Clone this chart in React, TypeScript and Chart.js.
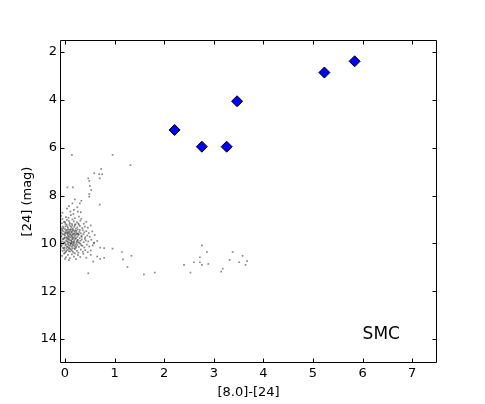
import React, { useEffect, useRef } from "react";
import { Chart, registerables } from "chart.js";

Chart.register(...registerables);

// Tick labels
const X_TICKS = [0, 1, 2, 3, 4, 5, 6, 7];
const Y_TICKS = [2, 4, 6, 8, 10, 12, 14];

// Bright sources (blue diamonds): [8.0]-[24] colour and [24] magnitude
const BRIGHT_COLOR = [2.21, 2.76, 3.26, 3.47, 5.23, 5.84];
const BRIGHT_MAG = [5.26, 5.96, 5.96, 4.06, 2.86, 2.39];

// Field stars (grey dots): [colour, magnitude]
const FIELD_CORE: [number, number][] = [
  [-0.08, 8.85], [0.02, 8.9], [0.12, 8.82], [0.2, 8.95], [-0.05, 8.98], [0.07, 8.93], [0.28, 8.88], [0.15, 9.0], [-0.1, 8.92], [0.33, 8.97],
  [-0.09, 9.05], [-0.02, 9.1], [0.04, 9.02], [0.1, 9.15], [0.18, 9.08], [0.24, 9.12], [0.31, 9.05], [0.38, 9.18], [0.01, 9.18], [0.14, 9.19],
  [-0.06, 9.16], [0.21, 9.2], [0.08, 9.07], [0.27, 9.17], [0.43, 9.1],
  [-0.1, 9.25], [-0.04, 9.3], [0.03, 9.22], [0.06, 9.35], [0.11, 9.28], [0.16, 9.38], [0.2, 9.24], [0.25, 9.33], [0.3, 9.27], [0.35, 9.36],
  [0.4, 9.3], [-0.07, 9.38], [0.0, 9.4], [0.09, 9.21], [0.13, 9.33], [0.19, 9.31], [0.22, 9.39], [0.28, 9.22], [0.46, 9.34], [0.52, 9.25],
  [-0.1, 9.45], [-0.08, 9.55], [-0.05, 9.42], [-0.03, 9.5], [0.0, 9.58], [0.02, 9.46], [0.05, 9.52], [0.07, 9.43], [0.09, 9.57], [0.11, 9.48],
  [0.13, 9.54], [0.15, 9.44], [0.17, 9.59], [0.19, 9.5], [0.21, 9.46], [0.23, 9.55], [0.26, 9.42], [0.29, 9.52], [0.32, 9.58], [0.36, 9.45],
  [0.39, 9.54], [0.43, 9.49], [0.48, 9.57], [0.55, 9.5], [0.01, 9.53], [0.12, 9.41], [-0.06, 9.59], [0.24, 9.6],
  [-0.1, 9.65], [-0.07, 9.72], [-0.04, 9.62], [-0.02, 9.78], [0.0, 9.68], [0.03, 9.74], [0.05, 9.61], [0.07, 9.7], [0.08, 9.79], [0.1, 9.64],
  [0.12, 9.75], [0.14, 9.68], [0.16, 9.62], [0.18, 9.77], [0.2, 9.7], [0.22, 9.64], [0.25, 9.73], [0.27, 9.66], [0.3, 9.78], [0.33, 9.69],
  [0.37, 9.62], [0.41, 9.74], [0.45, 9.67], [0.5, 9.72], [0.6, 9.65], [-0.09, 9.8], [0.06, 9.66], [0.15, 9.8], [0.28, 9.61],
  [-0.1, 9.85], [-0.06, 9.92], [-0.03, 9.83], [0.0, 9.97], [0.02, 9.88], [0.04, 9.81], [0.06, 9.94], [0.09, 9.86], [0.11, 9.99], [0.13, 9.9],
  [0.15, 9.83], [0.17, 9.95], [0.19, 9.87], [0.21, 9.82], [0.24, 9.93], [0.26, 9.85], [0.29, 9.98], [0.31, 9.89], [0.34, 9.84], [0.38, 9.95],
  [0.42, 9.88], [0.47, 9.92], [0.53, 9.85], [0.58, 9.97], [0.65, 9.9], [-0.08, 9.99], [0.07, 9.84], [0.23, 9.99],
  [-0.1, 10.05], [-0.07, 10.12], [-0.04, 10.02], [-0.01, 10.17], [0.01, 10.08], [0.04, 10.13], [0.06, 10.01], [0.09, 10.19], [0.11, 10.07], [0.14, 10.14],
  [0.16, 10.03], [0.19, 10.11], [0.22, 10.18], [0.25, 10.06], [0.28, 10.15], [0.31, 10.02], [0.35, 10.1], [0.39, 10.17], [0.44, 10.05], [0.49, 10.13],
  [0.56, 10.08], [0.03, 10.2], [0.13, 9.99],
  [-0.09, 10.25], [-0.05, 10.32], [-0.02, 10.22], [0.02, 10.36], [0.05, 10.27], [0.08, 10.22], [0.1, 10.34], [0.13, 10.28], [0.17, 10.38], [0.2, 10.24],
  [0.24, 10.31], [0.27, 10.39], [0.32, 10.26], [0.36, 10.35], [0.41, 10.28], [0.46, 10.37], [0.52, 10.3], [0.0, 10.4], [0.15, 10.21],
  [-0.1, 10.45], [-0.06, 10.52], [-0.02, 10.43], [0.02, 10.58], [0.06, 10.48], [0.1, 10.62], [0.14, 10.46], [0.18, 10.55], [0.22, 10.66], [0.26, 10.49],
  [0.31, 10.57], [0.37, 10.44], [0.43, 10.6], [0.08, 10.7], [0.0, 10.65], [0.2, 10.42],
];

// Extra stars filling the darkest part of the clump
const FIELD_DENSE: [number, number][] = [
  [-0.09, 9.32], [-0.06, 9.47], [-0.03, 9.36], [-0.01, 9.63], [0.01, 9.29], [0.03, 9.57], [0.04, 9.44], [0.05, 9.76], [0.06, 9.56], [0.08, 9.51],
  [0.09, 9.73], [0.1, 9.42], [0.11, 9.61], [0.12, 9.87], [0.13, 9.67], [0.14, 9.52], [0.16, 9.74], [0.17, 9.46], [0.18, 9.63], [0.19, 9.93],
  [0.2, 9.58], [0.22, 9.78], [0.23, 9.48], [0.25, 9.88], [0.26, 9.59], [-0.08, 9.69], [-0.05, 9.82], [-0.02, 9.95], [0.0, 9.77], [0.02, 10.04],
  [0.04, 9.92], [0.07, 10.07], [0.09, 9.96], [0.1, 10.11], [0.12, 10.02], [0.14, 9.94], [0.16, 10.09], [0.18, 10.0], [0.21, 10.06], [0.23, 10.13],
  [-0.07, 10.08], [-0.04, 10.19], [-0.01, 10.29], [0.03, 10.31], [0.06, 10.16], [0.08, 10.33], [0.11, 10.24], [0.15, 10.33], [0.19, 10.2], [0.27, 9.95],
  [-0.1, 9.58], [-0.1, 9.88], [-0.1, 10.16], [0.0, 9.11], [0.05, 9.29], [0.15, 9.25], [0.3, 9.44], [0.34, 9.72], [0.33, 10.08], [0.4, 9.81],
];

const FIELD_UPPER: [number, number][] = [
  [0.14, 6.3], [0.96, 6.3], [1.32, 6.73], [0.73, 6.89], [0.59, 7.07], [0.69, 7.11], [0.75, 7.11], [0.7, 7.28], [0.47, 7.28], [0.49, 7.39],
  [0.5, 7.6], [0.53, 7.77], [0.49, 7.94], [0.49, 8.05], [0.05, 7.66], [0.16, 7.66], [0.7, 8.38], [0.2, 8.16], [0.15, 8.33], [0.3, 8.33],
  [0.33, 8.22], [0.08, 8.44], [0.25, 8.49], [0.18, 8.6], [0.26, 8.67], [0.11, 8.67], [0.17, 8.77], [0.04, 8.55], [0.32, 8.7], [-0.05, 8.72],
];

const FIELD_RED: [number, number][] = [
  [0.59, 9.99], [0.71, 10.18], [0.79, 10.2], [0.96, 10.22], [1.15, 10.36], [1.34, 10.52], [1.17, 10.67], [1.26, 10.99], [0.47, 11.25],
  [1.59, 11.3], [1.81, 11.22], [0.65, 10.55], [0.71, 10.65], [0.79, 10.6], [0.52, 10.48], [0.57, 10.76],
  [2.76, 10.08], [2.86, 10.36], [2.72, 10.58], [2.6, 10.79], [2.72, 10.79], [2.76, 10.9], [2.89, 10.86], [2.4, 10.9], [2.53, 11.22],
  [3.38, 10.36], [3.58, 10.52], [3.32, 10.69], [3.51, 10.79], [3.67, 10.74], [3.64, 10.9], [3.18, 11.06], [3.15, 11.18],
];

const LABEL_TEXT = "SMC";
const LABEL_POS: [number, number] = [6.0, 14.0];

const FONT = "'DejaVu Sans', sans-serif";

const framePlugin = {
  id: "frameTicks",
  afterDraw(chart: any) {
    const { ctx, chartArea, scales } = chart;
    const { left, right, top, bottom } = chartArea;
    const xs = scales.x;
    const ys = scales.y;
    ctx.save();
    ctx.strokeStyle = "#000";
    ctx.lineWidth = 1;
    const L = Math.round(left) + 0.5;
    const R = Math.round(right) - 0.5;
    const T = Math.round(top) + 0.5;
    const B = Math.round(bottom) - 0.5;
    ctx.beginPath();
    ctx.rect(L, T, R - L, B - T);
    ctx.stroke();
    const len = 4;
    ctx.beginPath();
    X_TICKS.forEach((v) => {
      const px = Math.round(xs.getPixelForValue(v)) + 0.5;
      ctx.moveTo(px, B);
      ctx.lineTo(px, B - len);
      ctx.moveTo(px, T);
      ctx.lineTo(px, T + len);
    });
    Y_TICKS.forEach((v) => {
      const py = Math.round(ys.getPixelForValue(v)) + 0.5;
      ctx.moveTo(L, py);
      ctx.lineTo(L + len, py);
      ctx.moveTo(R, py);
      ctx.lineTo(R - len, py);
    });
    ctx.stroke();
    ctx.fillStyle = "#000";
    ctx.font = `17px ${FONT}`;
    ctx.textAlign = "left";
    ctx.textBaseline = "alphabetic";
    ctx.fillText(LABEL_TEXT, xs.getPixelForValue(LABEL_POS[0]), ys.getPixelForValue(LABEL_POS[1]));
    ctx.restore();
  },
};

export default function App() {
  const ref = useRef<HTMLCanvasElement | null>(null);
  useEffect(() => {
    if (!ref.current) return;
    const field = [...FIELD_CORE, ...FIELD_DENSE, ...FIELD_UPPER, ...FIELD_RED].map(([x, y]) => ({ x, y }));
    const bright = BRIGHT_COLOR.map((x, i) => ({ x, y: BRIGHT_MAG[i] }));
    const chart = new Chart(ref.current, {
      type: "scatter",
      data: {
        datasets: [
          {
            label: "field",
            data: field,
            pointStyle: "rect",
            pointRadius: 1.2,
            pointBackgroundColor: "rgba(40,40,40,0.55)",
            pointBorderWidth: 0,
            pointHoverRadius: 1.2,
          },
          {
            label: "bright",
            data: bright,
            pointStyle: "rectRot",
            pointRadius: 5.5,
            pointBackgroundColor: "#0000ff",
            pointBorderColor: "#000",
            pointBorderWidth: 1,
          },
        ],
      },
      options: {
        animation: false,
        responsive: false,
        layout: { padding: { left: 0, top: 40, right: 48, bottom: 0 } },
        plugins: { legend: { display: false }, tooltip: { enabled: false } },
        scales: {
          x: {
            type: "linear",
            position: "bottom",
            min: -0.1,
            max: 7.5,
            grid: { display: false, drawTicks: false },
            border: { display: false },
            afterBuildTicks: (s: any) => {
              s.ticks = X_TICKS.map((v) => ({ value: v }));
            },
            afterFit: (s: any) => {
              s.height = 41;
            },
            ticks: { color: "#000", font: { family: FONT, size: 13 }, padding: 3, maxRotation: 0 },
            title: {
              display: true,
              text: "[8.0]-[24]",
              color: "#000",
              font: { family: FONT, size: 13 },
              padding: { top: 0, bottom: 4 },
            },
          },
          y: {
            type: "linear",
            reverse: true,
            min: 1.5,
            max: 15,
            grid: { display: false, drawTicks: false },
            border: { display: false },
            afterBuildTicks: (s: any) => {
              s.ticks = Y_TICKS.map((v) => ({ value: v }));
            },
            afterFit: (s: any) => {
              s.width = 60;
            },
            ticks: { color: "#000", font: { family: FONT, size: 13 }, padding: 3 },
            title: {
              display: true,
              text: "[24] (mag)",
              color: "#000",
              font: { family: FONT, size: 13 },
              padding: { top: 20, bottom: 0 },
            },
          },
        },
      },
      plugins: [framePlugin],
    });
    return () => chart.destroy();
  }, []);
  return (
    <div style={{ position: "fixed", left: 0, top: 0, width: 485, height: 404, background: "#fff" }}>
      <canvas ref={ref} width={485} height={404} style={{ width: 485, height: 404, display: "block" }} />
    </div>
  );
}
